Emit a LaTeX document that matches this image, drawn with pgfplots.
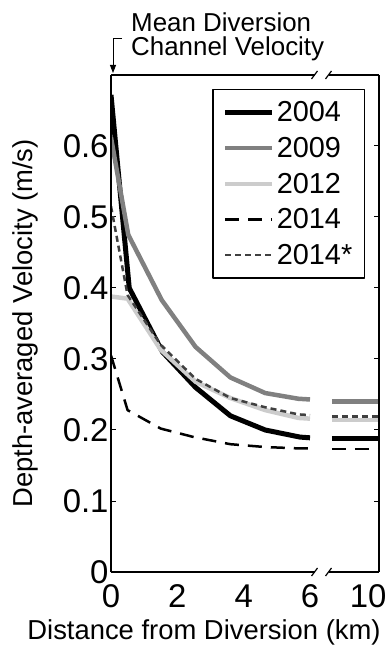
\documentclass[border=0pt]{standalone}
\usepackage{fontspec}
\setmainfont{Liberation Sans}
\usepackage{pgfplots}
\pgfplotsset{compat=1.18}
\usetikzlibrary{arrows.meta}
\definecolor{gA}{RGB}{128,128,128}
\definecolor{gB}{RGB}{204,204,204}
\definecolor{gC}{RGB}{64,64,64}
\begin{document}
\begin{tikzpicture}
\useasboundingbox (-111bp,-73bp) rectangle (277bp,572bp);
\begin{axis}[
  scale only axis, width=268bp, height=497bp,
  xmin=0, xmax=8.08, ymin=0, ymax=0.7,
  axis line style={draw=none},
  xtick={0,2,4,6,7.75}, xticklabels={0,2,4,6,10},
  ytick={0,0.1,0.2,0.3,0.4,0.5,0.6},
  yticklabels={0,0.1,0.2,0.3,0.4,0.5,0.6},
  tick label style={font=\fontsize{33}{33}\selectfont},
  xticklabel style={yshift=-9bp},
  yticklabel style={xshift=1bp},
  xtick style={draw=none},
  ytick style={line width=1bp, black},
  tick align=inside, major tick length=5bp,
  every axis y label/.style={at={(axis description cs:-0.3209,0.5)}, rotate=90, anchor=center, font=\fontsize{27.5}{27.5}\selectfont},
  every axis x label/.style={at={(axis description cs:0.347,-0.1368)}, anchor=base, font=\fontsize{27.5}{27.5}\selectfont},
  ylabel={Depth-averaged Velocity (m/s)},
  xlabel={Distance from Diversion (km)},
  line join=round,
  legend image code/.code={\draw[#1] (6bp,0bp) -- (53bp,0bp);},
  legend style={at={(axis description cs:0.948,0.972)}, anchor=north east,
    draw=black, line width=1.5bp, inner xsep=10bp, inner ysep=10bp,
    row sep=10bp, font=\fontsize{29}{29}\selectfont, nodes={inner sep=2bp},
    /tikz/every even column/.append style={column sep=4bp}},
  legend cell align=left,
]
\addplot[black, line width=5bp] coordinates {(0,0.672)(0.55,0.40)(1.55,0.31)(2.55,0.26)(3.6,0.22)(4.65,0.20)(5.7,0.19)(6,0.189)};
\addlegendentry{2004}
\addplot[gA, line width=4.5bp] coordinates {(0,0.612)(0.52,0.475)(1.53,0.383)(2.55,0.317)(3.6,0.274)(4.65,0.252)(5.65,0.244)(6,0.243)};
\addlegendentry{2009}
\addplot[gB, line width=4.5bp] coordinates {(0,0.388)(0.5,0.385)(1.5,0.313)(2.55,0.268)(3.6,0.245)(4.65,0.228)(5.65,0.217)(6,0.216)};
\addlegendentry{2012}
\addplot[black, line width=2.5bp, dash pattern=on 14bp off 9bp] coordinates {(0,0.305)(0.5,0.228)(1.5,0.202)(2.5,0.19)(3.6,0.18)(4.65,0.176)(5.7,0.174)(6,0.174)};
\addlegendentry{2014}
\addplot[gC, line width=2.5bp, dash pattern=on 6bp off 4bp] coordinates {(0,0.515)(0.5,0.39)(1.5,0.32)(2.55,0.272)(3.6,0.245)(4.65,0.232)(5.65,0.222)(6,0.221)};
\addlegendentry{2014*}
% right segment (beyond the axis break)
\addplot[black, line width=5bp, forget plot] coordinates {(6.66,0.188)(8.08,0.188)};
\addplot[gA, line width=4.5bp, forget plot] coordinates {(6.66,0.240)(8.08,0.240)};
\addplot[gB, line width=4.5bp, forget plot] coordinates {(6.66,0.214)(8.08,0.214)};
\addplot[black, line width=2.5bp, dash pattern=on 14bp off 9bp, forget plot] coordinates {(6.66,0.173)(8.08,0.173)};
\addplot[gC, line width=2.5bp, dash pattern=on 6bp off 4bp, forget plot] coordinates {(6.66,0.219)(8.08,0.219)};
\end{axis}
% axis frame with break marks
\draw[line width=1.2bp] (0,0) -- (0,497bp);
\draw[line width=1.2bp] (268bp,0) -- (268bp,497bp);
\draw[line width=1.2bp] (0,0) -- (203.5bp,0);
\draw[line width=1.2bp] (217.5bp,0) -- (268bp,0);
\draw[line width=1.2bp] (0,497bp) -- (203.5bp,497bp);
\draw[line width=1.2bp] (217.5bp,497bp) -- (268bp,497bp);
\draw[line width=1.2bp] (200.5bp,-4bp) -- (206.5bp,4bp);
\draw[line width=1.2bp] (214.5bp,-4bp) -- (220.5bp,4bp);
\draw[line width=1.2bp] (200.5bp,493bp) -- (206.5bp,501bp);
\draw[line width=1.2bp] (214.5bp,493bp) -- (220.5bp,501bp);
% annotation
\node[anchor=base west, font=\fontsize{26}{26}\selectfont, inner sep=0] at (20bp,540bp) {Mean Diversion};
\node[anchor=base west, font=\fontsize{26}{26}\selectfont, inner sep=0] at (20bp,516bp) {Channel Velocity};
\draw[line width=1bp, -{Triangle[width=6bp,length=8bp]}] (11bp,533bp) -- (2bp,533bp) -- (2bp,499bp);
\end{tikzpicture}
\end{document}
